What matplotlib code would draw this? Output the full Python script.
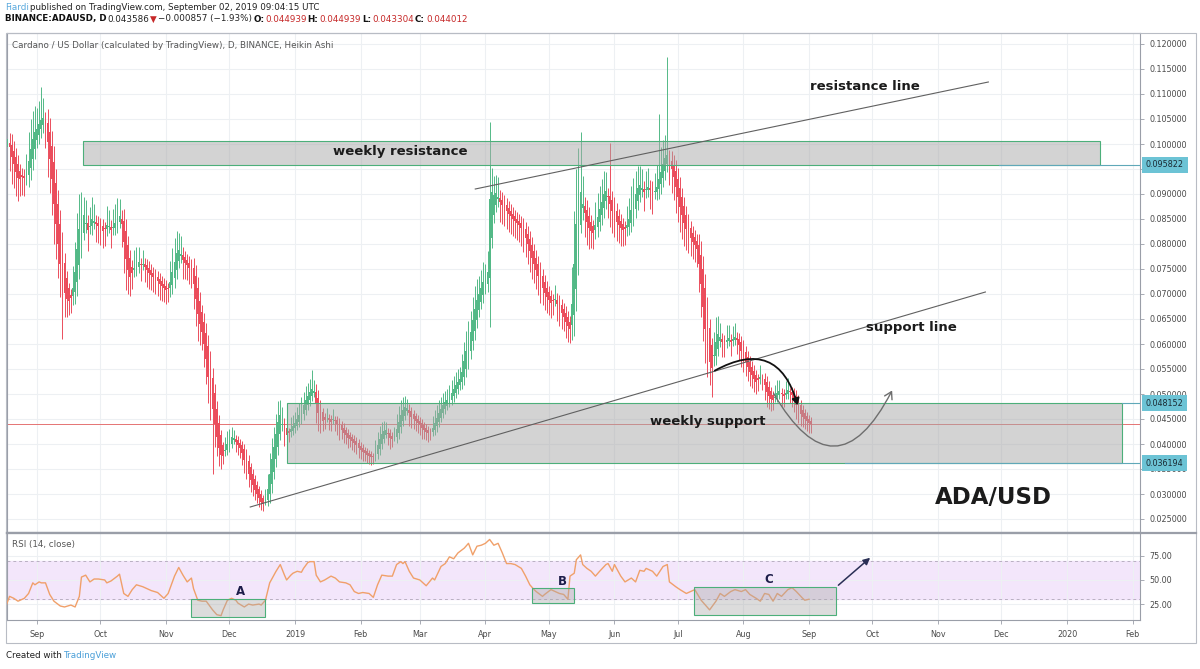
import numpy as np
import pandas as pd
import matplotlib
matplotlib.use("Agg")
import matplotlib.pyplot as plt
from matplotlib.patches import Rectangle, FancyArrowPatch

plt.rcParams['font.family'] = ['DejaVu Sans']

start = pd.Timestamp("2018-08-17")

# Heikin Ashi closes, one value per day
close_2018_08 = [0.1000, 0.1010, 0.0995, 0.0975, 0.0960, 0.0945, 0.0932, 0.0930, 0.0935, 0.0932,
                 0.0940, 0.0965, 0.0990, 0.1010, 0.1025]
close_2018_09 = [0.1030, 0.1040, 0.1048, 0.1052, 0.1040, 0.1005, 0.0970, 0.0930, 0.0880, 0.0840,
                 0.0800, 0.0760, 0.0725, 0.0702, 0.0690, 0.0686, 0.0692, 0.0712, 0.0745, 0.0790,
                 0.0830, 0.0852, 0.0858, 0.0842, 0.0828, 0.0836, 0.0850, 0.0846, 0.0840, 0.0836]
close_2018_10 = [0.0832, 0.0826, 0.0830, 0.0838, 0.0835, 0.0828, 0.0834, 0.0842, 0.0852, 0.0856,
                 0.0840, 0.0805, 0.0770, 0.0748, 0.0735, 0.0742, 0.0752, 0.0760, 0.0764, 0.0758,
                 0.0760, 0.0755, 0.0748, 0.0742, 0.0738, 0.0734, 0.0730, 0.0726, 0.0720, 0.0716, 0.0712]
close_2018_11 = [0.0708, 0.0710, 0.0725, 0.0745, 0.0765, 0.0782, 0.0788, 0.0780, 0.0768, 0.0762,
                 0.0758, 0.0752, 0.0745, 0.0720, 0.0690, 0.0660, 0.0640, 0.0625, 0.0600, 0.0570,
                 0.0535, 0.0500, 0.0470, 0.0440, 0.0415, 0.0392, 0.0378, 0.0376, 0.0388, 0.0400]
close_2018_12 = [0.0408, 0.0414, 0.0412, 0.0405, 0.0398, 0.0392, 0.0382, 0.0368, 0.0355, 0.0340,
                 0.0328, 0.0318, 0.0308, 0.0300, 0.0292, 0.0285, 0.0280, 0.0290, 0.0310, 0.0340,
                 0.0370, 0.0395, 0.0420, 0.0445, 0.0458, 0.0440, 0.0425, 0.0418, 0.0422, 0.0430, 0.0436]
close_2019_01 = [0.0442, 0.0450, 0.0458, 0.0468, 0.0478, 0.0488, 0.0496, 0.0504, 0.0510, 0.0505,
                 0.0482, 0.0462, 0.0450, 0.0446, 0.0448, 0.0452, 0.0448, 0.0445, 0.0450, 0.0446,
                 0.0440, 0.0432, 0.0428, 0.0422, 0.0418, 0.0412, 0.0410, 0.0406, 0.0402, 0.0398, 0.0392]
close_2019_02 = [0.0388, 0.0384, 0.0382, 0.0379, 0.0376, 0.0374, 0.0375, 0.0385, 0.0398, 0.0410,
                 0.0420, 0.0426, 0.0428, 0.0420, 0.0412, 0.0410, 0.0415, 0.0430, 0.0445, 0.0458,
                 0.0468, 0.0474, 0.0472, 0.0462, 0.0455, 0.0450, 0.0446, 0.0442]
close_2019_03 = [0.0438, 0.0432, 0.0428, 0.0425, 0.0422, 0.0424, 0.0432, 0.0442, 0.0452, 0.0462,
                 0.0470, 0.0478, 0.0484, 0.0488, 0.0494, 0.0502, 0.0510, 0.0518, 0.0525, 0.0530,
                 0.0545, 0.0565, 0.0585, 0.0605, 0.0625, 0.0648, 0.0670, 0.0688, 0.0700, 0.0712, 0.0725]
close_2019_04 = [0.0730, 0.0745, 0.0890, 0.0905, 0.0898, 0.0902, 0.0895, 0.0885, 0.0878, 0.0872,
                 0.0866, 0.0860, 0.0855, 0.0850, 0.0846, 0.0842, 0.0838, 0.0832, 0.0822, 0.0812,
                 0.0800, 0.0786, 0.0772, 0.0760, 0.0748, 0.0736, 0.0722, 0.0712, 0.0702, 0.0694]
close_2019_05 = [0.0688, 0.0682, 0.0686, 0.0690, 0.0680, 0.0670, 0.0662, 0.0655, 0.0645, 0.0636,
                 0.0630, 0.0680, 0.0760, 0.0840, 0.0900, 0.0905, 0.0880, 0.0862, 0.0845, 0.0832,
                 0.0826, 0.0822, 0.0838, 0.0855, 0.0870, 0.0885, 0.0900, 0.0906, 0.0895, 0.0880, 0.0866]
close_2019_06 = [0.0855, 0.0845, 0.0838, 0.0832, 0.0828, 0.0830, 0.0838, 0.0850, 0.0868, 0.0885,
                 0.0900, 0.0912, 0.0918, 0.0912, 0.0905, 0.0910, 0.0915, 0.0908, 0.0900, 0.0905,
                 0.0915, 0.0930, 0.0945, 0.0960, 0.0972, 0.0978, 0.0965, 0.0950, 0.0935, 0.0915]
close_2019_07 = [0.0895, 0.0875, 0.0858, 0.0842, 0.0830, 0.0820, 0.0812, 0.0805, 0.0798, 0.0790,
                 0.0760, 0.0720, 0.0675, 0.0630, 0.0592, 0.0565, 0.0552, 0.0578, 0.0605, 0.0620,
                 0.0615, 0.0605, 0.0600, 0.0608, 0.0612, 0.0605, 0.0610, 0.0615, 0.0608, 0.0598, 0.0586]
close_2019_08 = [0.0575, 0.0565, 0.0555, 0.0545, 0.0538, 0.0530, 0.0524, 0.0528, 0.0534, 0.0530,
                 0.0518, 0.0505, 0.0496, 0.0490, 0.0488, 0.0494, 0.0502, 0.0506, 0.0500, 0.0496,
                 0.0502, 0.0508, 0.0504, 0.0498, 0.0490, 0.0478, 0.0468, 0.0460, 0.0455, 0.0450, 0.0446]
close_2019_09 = [0.0442, 0.0440]

# long wicks that stick out
spike_high = {"2018-08-18": 0.1128, "2018-09-03": 0.1114, "2019-01-09": 0.0548,
              "2019-04-03": 0.1044, "2019-05-16": 0.1024, "2019-05-30": 0.1003,
              "2019-06-22": 0.1060, "2019-06-26": 0.1174}
spike_low = {"2018-09-13": 0.0610, "2018-11-23": 0.0340, "2019-04-03": 0.0634,
             "2019-07-17": 0.0494}

# RSI (14, close): day offset from start, value
rsi_day = [0, 2, 4, 6, 9, 11, 13, 14, 16, 17, 19, 21, 23, 26, 28, 31, 33, 35, 36, 38,
           40, 42, 44, 47, 48, 50, 53, 54, 56, 58, 60, 62, 65, 67, 69, 72, 75, 77, 80, 82,
           84, 86, 88, 89, 91, 93, 95, 98, 100, 102, 103, 105, 107, 109, 110, 113, 115, 117, 120, 121,
           123, 125, 128, 130, 132, 133, 135, 136, 138, 140, 141, 143, 144, 146, 147, 149, 151, 154, 156, 158,
           161, 163, 165, 167, 169, 172, 174, 176, 178, 181, 183, 185, 187, 188, 189, 191, 193, 196, 199, 202,
           203, 206, 208, 210, 212, 214, 217, 219, 221, 223, 225, 227, 229, 231, 233, 235, 237, 239, 241, 244,
           246, 248, 250, 251, 254, 255, 258, 260, 262, 264, 266, 267, 269, 270, 272, 273, 275, 277, 279, 281,
           284, 285, 287, 288, 291, 293, 296, 298, 300, 302, 303, 306, 308, 311, 313, 314, 317, 319, 322, 324,
           326, 329, 331, 333, 336, 338, 340, 343, 345, 348, 350, 352, 355, 357, 359, 361, 363, 365, 367, 370,
           372, 374, 377, 378, 380]
rsi_value = [21, 33, 31, 28, 31, 36, 47, 45, 48, 47, 47, 35, 28, 23, 22, 24, 22, 33, 53, 55,
             48, 51, 51, 50, 47, 49, 54, 56, 36, 33, 40, 45, 43, 41, 39, 37, 31, 36, 54, 63,
             55, 48, 52, 41, 29, 28, 28, 19, 14, 13, 19, 29, 31, 29, 26, 22, 25, 24, 25, 24,
             29, 47, 59, 66, 55, 50, 55, 57, 59, 58, 62, 68, 69, 69, 55, 48, 50, 54, 52, 48,
             47, 45, 38, 36, 37, 36, 32, 45, 55, 54, 54, 66, 69, 67, 69, 59, 52, 50, 44, 52,
             50, 64, 67, 74, 72, 78, 83, 88, 76, 85, 86, 88, 92, 86, 88, 78, 67, 67, 66, 62,
             54, 45, 40, 38, 33, 35, 40, 38, 36, 35, 30, 54, 57, 71, 76, 66, 62, 59, 54, 59,
             66, 67, 59, 66, 54, 48, 52, 48, 60, 59, 62, 59, 54, 64, 66, 48, 43, 40, 36, 38,
             40, 29, 24, 19, 28, 36, 33, 38, 40, 38, 40, 35, 31, 28, 36, 35, 28, 36, 33, 40,
             42, 38, 31, 29, 30]

weekly_resistance = (0.095822, 0.1006)
weekly_support = (0.036194, 0.048152)
last_price = 0.044012
axis_marks = [0.095822, 0.048152, 0.036194]

closes = np.array(close_2018_08 + close_2018_09 + close_2018_10 + close_2018_11 + close_2018_12
                  + close_2019_01 + close_2019_02 + close_2019_03 + close_2019_04 + close_2019_05
                  + close_2019_06 + close_2019_07 + close_2019_08 + close_2019_09)
n = len(closes)
days = np.arange(n)


def day_of(s):
    return (pd.Timestamp(s) - start).days


# heikin ashi open from previous candle
opens = np.empty(n)
opens[0] = closes[0] - 0.001
for i in range(1, n):
    opens[i] = (opens[i - 1] + closes[i - 1]) / 2

green = closes >= opens
move = np.abs(np.diff(closes, prepend=closes[0]))
reach = 0.035 * closes + 1.0 * move
highs = np.maximum(opens, closes) + np.where(green, reach, 0.4 * reach)
lows = np.minimum(opens, closes) - np.where(green, 0.4 * reach, reach)
for s, v in spike_high.items():
    highs[day_of(s)] = v
for s, v in spike_low.items():
    lows[day_of(s)] = v

up_col = '#53b987'
down_col = '#eb4d5c'
cols = np.where(green, up_col, down_col)

W, H = 1200, 669
fig = plt.figure(figsize=(W / 100, H / 100), dpi=100)
ax = fig.add_axes([7 / W, 1 - 533 / H, 1133 / W, 500 / H])
ax_rsi = fig.add_axes([7 / W, 1 - 620 / H, 1133 / W, 87 / H], sharex=ax)

x_end = day_of("2020-02-04") + 0.5
ax.set_xlim(0.8, x_end)
ax.set_ylim(0.0222, 0.1222)
ax_rsi.set_ylim(8.5, 98.7)

grid_col = '#edf0f3'
months = pd.date_range("2018-09-01", "2020-02-01", freq="MS")
month_pos = [(m - start).days for m in months]
month_lab = [str(m.year) if m.month == 1 else m.strftime("%b") for m in months]
for a in (ax, ax_rsi):
    a.set_xticks(month_pos)
    a.grid(True, color=grid_col, linewidth=0.8)
    a.set_axisbelow(True)
    a.yaxis.tick_right()
    for sp in a.spines.values():
        sp.set_color('#9a9ea8')
        sp.set_linewidth(0.8)
    a.tick_params(colors='#9a9ea8', labelcolor='#4a4a4a', labelsize=5.8, length=3, width=0.6)
ax.spines['bottom'].set_linewidth(1.6)
ax.tick_params(axis='x', labelbottom=False, length=0)
ax_rsi.set_xticklabels(month_lab)
ax_rsi.tick_params(axis='x', pad=4)

# the 0.095 label sits fully under the resistance badge
price_ticks = np.arange(0.025, 0.1201, 0.005)
ax.set_yticks(price_ticks)
ax.set_yticklabels(["" if abs(v - 0.095) < 1e-6 else f"{v:.6f}" for v in price_ticks])

# candles
ax.vlines(days, lows, highs, colors=cols, linewidth=0.7, zorder=2)
ax.bar(days, np.maximum(np.abs(closes - opens), 0.00015), bottom=np.minimum(opens, closes),
       width=0.85, color=cols, linewidth=0, zorder=3)

# last price line
ax.axhline(last_price, color='#e57373', linewidth=0.7, zorder=1)

# zones
box_face = '#a8a8a8'
box_edge = '#4caf7a'
r0, r1 = weekly_resistance
ax.add_patch(Rectangle((36.9, r0), 517.7 - 36.9, r1 - r0, facecolor=box_face, alpha=0.5,
                       edgecolor='none', zorder=4))
ax.add_patch(Rectangle((36.9, r0), 517.7 - 36.9, r1 - r0, facecolor='none',
                       edgecolor=box_edge, linewidth=0.8, zorder=4))
s0, s1 = weekly_support
ax.add_patch(Rectangle((133.3, s0), 528.0 - 133.3, s1 - s0, facecolor=box_face, alpha=0.5,
                       edgecolor='none', zorder=4))
ax.add_patch(Rectangle((133.3, s0), 528.0 - 133.3, s1 - s0, facecolor='none',
                       edgecolor=box_edge, linewidth=0.8, zorder=4))
ax.plot([470, x_end], [r0, r0], color='#5fa8b8', linewidth=0.8, zorder=4)
ax.plot([528.0, x_end], [s1, s1], color='#5fa8b8', linewidth=0.8, zorder=4)
ax.plot([397, x_end], [s0, s0], color='#5fa8b8', linewidth=0.8, zorder=4)

# trend lines
ax.plot([222.2, 464.8], [0.0910, 0.1124], color='#606060', linewidth=0.8, zorder=5)
ax.plot([115.8, 463.4], [0.0274, 0.0704], color='#606060', linewidth=0.8, zorder=5)

txt = dict(fontweight='bold', color='#1b1b1b', ha='center', va='center', zorder=6)
ax.text(406.6, 0.1116, "resistance line", fontsize=9.5, **txt)
ax.text(186.8, 0.0984, "weekly resistance", fontsize=9.5, **txt)
ax.text(428.4, 0.0634, "support line", fontsize=9.5, **txt)
ax.text(331.9, 0.0446, "weekly support", fontsize=9.5, **txt)
ax.text(467.1, 0.0294, "ADA/USD", fontsize=16.5, **txt)

# projected path arrows
ax.add_patch(FancyArrowPatch((334.3, 0.0544), (375.0, 0.0472), connectionstyle="arc3,rad=-0.65",
                             arrowstyle='-|>,head_length=4,head_width=2.2', color='#111111',
                             linewidth=1.3, zorder=7))
ax.add_patch(FancyArrowPatch((362.6, 0.0506), (419.9, 0.0512), connectionstyle="arc3,rad=0.93",
                             arrowstyle='->,head_length=5,head_width=3', color='#6e6e6e',
                             linewidth=1.0, zorder=7))

# price axis badges, drawn over the regular tick labels
for v in axis_marks:
    ax.text(1.0 + 6 / 1133, v, f"{v:.6f}", transform=ax.get_yaxis_transform(), fontsize=5.8,
            color='#1b2a33', va='center', ha='left', zorder=8, clip_on=False,
            bbox=dict(boxstyle='square,pad=0.45', facecolor='#6cc3d5', edgecolor='none'))

ax.text(5 / 1133, 1 - 12 / 500, "Cardano / US Dollar (calculated by TradingView), D, BINANCE, Heikin Ashi",
        transform=ax.transAxes, fontsize=6.3, color='#555555', va='center', ha='left')

# RSI pane
ax_rsi.axhspan(30, 70, color='#f3e6fb', zorder=0)
ax_rsi.axhline(70, color='#b9b0c2', linewidth=0.7, linestyle=(0, (3, 3)))
ax_rsi.axhline(30, color='#b9b0c2', linewidth=0.7, linestyle=(0, (3, 3)))
ax_rsi.plot(rsi_day, rsi_value, color='#f0a06a', linewidth=1.0, zorder=3)
ax_rsi.set_yticks([25, 50, 75])
ax_rsi.set_yticklabels(["25.00", "50.00", "75.00"])
ax_rsi.text(5 / 1133, 1 - 12 / 87, "RSI (14, close)", transform=ax_rsi.transAxes, fontsize=6.3,
            color='#555555', va='center', ha='left')

rsi_boxes = [("A", 88.0, 123.0, 12.0, 30.0),
             ("B", 249.2, 269.0, 25.9, 41.4),
             ("C", 325.8, 392.9, 13.8, 43.0)]
for lab, x0, x1, y0, y1 in rsi_boxes:
    ax_rsi.add_patch(Rectangle((x0, y0), x1 - x0, y1 - y0, facecolor=box_face, alpha=0.4,
                               edgecolor='none', zorder=4))
    ax_rsi.add_patch(Rectangle((x0, y0), x1 - x0, y1 - y0, facecolor='none', edgecolor=box_edge,
                               linewidth=0.8, zorder=4))
ax_rsi.text(111.0, 38.5, "A", fontsize=8.5, fontweight='bold', color='#1d1d4a', ha='center', va='center')
ax_rsi.text(263.5, 48.0, "B", fontsize=8.5, fontweight='bold', color='#1d1d4a', ha='center', va='center')
ax_rsi.text(360.8, 50.0, "C", fontsize=8.5, fontweight='bold', color='#1d1d4a', ha='center', va='center')
ax_rsi.add_patch(FancyArrowPatch((392.9, 42.7), (409.9, 74.9),
                                 arrowstyle='-|>,head_length=4,head_width=2', color='#2a2f55',
                                 linewidth=1.1, zorder=6))

# outer frame and header
fig.add_artist(Rectangle((6 / W, 1 - 643 / H), 1190 / W, 610 / H, transform=fig.transFigure,
                         facecolor='none', edgecolor='#b8bcc4', linewidth=0.8))
fig.add_artist(plt.Line2D([7 / W, 1196 / W], [1 - 533 / H, 1 - 533 / H], transform=fig.transFigure,
                          color='#9a9ea8', linewidth=1.6))

fig.canvas.draw()
renderer = fig.canvas.get_renderer()


def run_text(x, y, parts, size):
    for s, color, weight in parts:
        t = fig.text(x / W, 1 - y / H, s, fontsize=size, color=color, fontweight=weight,
                     va='center', ha='left')
        x += t.get_window_extent(renderer).width + 1


run_text(5, 7, [("Fiardi", '#5aa9dd', 'normal'),
                ("published on TradingView.com, September 02, 2019 09:04:15 UTC", '#222222', 'normal')], 6.3)
run_text(5, 19, [("BINANCE:ADAUSD, D", '#111111', 'bold'),
                 ("0.043586", '#222222', 'normal'),
                 ("\u25bc", '#c62828', 'normal'),
                 ("\u22120.000857 (\u22121.93%)", '#222222', 'normal'),
                 ("O:", '#111111', 'bold'), ("0.044939", '#c62828', 'normal'),
                 ("H:", '#111111', 'bold'), ("0.044939", '#c62828', 'normal'),
                 ("L:", '#111111', 'bold'), ("0.043304", '#c62828', 'normal'),
                 ("C:", '#111111', 'bold'), ("0.044012", '#c62828', 'normal')], 6.3)
run_text(6, 656, [("Created with", '#222222', 'normal'), ("TradingView", '#4a9fd8', 'normal')], 6.3)

fig.savefig("out.png", dpi=100)
